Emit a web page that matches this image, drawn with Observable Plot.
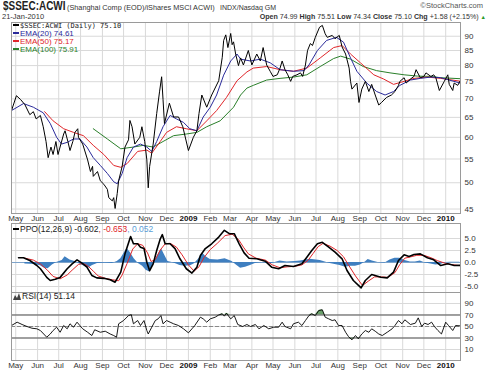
<!DOCTYPE html>
<html><head><meta charset="utf-8">
<script src="https://cdn.jsdelivr.net/npm/d3@7"></script>
<script src="https://cdn.jsdelivr.net/npm/@observablehq/plot@0.6"></script>
<style>
html,body{margin:0;padding:0;background:#fff;}
#root{position:relative;width:489px;height:371px;overflow:hidden;font-family:"Liberation Sans",Arial,sans-serif;color:#222;}
.abs{position:absolute;white-space:nowrap;}
svg{overflow:visible;}
.lg{font-size:8px;line-height:8px;}
.dash{display:inline-block;width:6px;height:2px;vertical-align:middle;margin-right:1px;position:relative;top:-1px;}
</style></head><body>
<div id="root">
  <div class="abs" style="left:3px;top:0px;font-size:12px;line-height:12px;font-weight:bold;transform:scaleX(0.83);transform-origin:0 0;">$SSEC:ACWI</div>
  <div class="abs" style="left:67px;top:4px;font-size:7.3px;line-height:8px;color:#333;">(Shanghai Comp (EOD)/iShares MSCI ACWI)</div>
  <div class="abs" style="left:220px;top:4px;font-size:7px;line-height:8px;color:#333;">INDX/Nasdaq GM</div>
  <div class="abs" style="right:6px;top:2px;font-size:7.5px;line-height:8px;color:#555;">&copy;StockCharts.com</div>
  <div class="abs" style="left:2px;top:12.5px;font-size:7.5px;line-height:8px;color:#333;">21-Jan-2010</div>
  <div class="abs" style="right:3px;top:12.5px;font-size:7.1px;line-height:8px;color:#333;"><b>Open</b> 74.99 <b>High</b> 75.51 <b>Low</b> 74.34 <b>Close</b> 75.10 <b>Chg</b> +1.58 (+2.15%) <span style="color:#2a9a2a;font-size:5.5px">&#9650;</span></div>
  <div id="p1" class="abs" style="left:0;top:21px;"></div>
  <div id="p2" class="abs" style="left:0;top:222px;"></div>
  <div id="p3" class="abs" style="left:0;top:291px;"></div>
  <div class="abs lg" style="left:13px;top:22px;font-family:'DejaVu Sans Mono',monospace;font-size:7px;"><span class="dash" style="background:#000"></span>$SSEC:ACWI (Daily) 75.10</div>
  <div class="abs lg" style="left:13px;top:30px;color:#2a2a9a;"><span class="dash" style="background:#2a2a9a"></span>EMA(20) 74.61</div>
  <div class="abs lg" style="left:13px;top:38px;color:#e0262a;"><span class="dash" style="background:#e0262a"></span>EMA(50) 75.17</div>
  <div class="abs lg" style="left:13px;top:46px;color:#2a7f2a;"><span class="dash" style="background:#2a7f2a"></span>EMA(100) 75.91</div>
  <div class="abs lg" style="left:13px;top:225px;font-size:8.5px;"><span class="dash" style="background:#000"></span>PPO(12,26,9) -0.602<span style="color:#e0262a">, -0.653</span><span style="color:#5aa0d8">, 0.052</span></div>
  <div class="abs lg" style="left:13px;top:292px;font-size:8.5px;"><svg width="8" height="7" style="vertical-align:middle;margin-right:1px"><path d="M0,7 L2,2 L4,5 L6,0 L8,7 Z" fill="#444"/></svg>RSI(14) 51.14</div>
</div>
<script>
// ---------- DATA ----------
const priceTicks = [45, 50, 55, 60, 65, 70, 75, 80, 85, 90];
const ppoTicks = [-5, -2.5, 0, 2.5, 5];
const rsiTicks = [10, 30, 50, 70, 90];

const price = [
["2008-04-25",66.8],["2008-05-02",70.9],["2008-05-08",69.8],["2008-05-14",68.4],["2008-05-21",65.7],
["2008-05-26",66.5],["2008-05-30",64.6],["2008-06-05",65.5],["2008-06-09",62.6],["2008-06-13",59.0],
["2008-06-16",55.3],["2008-06-20",57.7],["2008-06-23",56.0],["2008-06-27",59.0],["2008-06-30",56.0],
["2008-07-08",60.8],["2008-07-10",61.6],["2008-07-14",59.0],["2008-07-17",56.9],["2008-07-21",59.0],
["2008-07-24",61.2],["2008-07-28",62.1],["2008-07-29",60.0],["2008-08-04",58.4],["2008-08-11",54.8],
["2008-08-15",52.3],["2008-08-18",53.4],["2008-08-19",51.3],["2008-08-25",52.3],["2008-08-29",50.4],
["2008-09-03",49.7],["2008-09-08",48.7],["2008-09-10",47.1],["2008-09-15",46.5],["2008-09-17",47.1],
["2008-09-19",45.1],["2008-09-22",47.9],["2008-09-24",50.4],["2008-09-29",53.4],["2008-10-03",57.7],
["2008-10-08",59.4],["2008-10-10",64.2],["2008-10-13",62.6],["2008-10-17",58.4],["2008-10-24",60.0],
["2008-10-27",62.6],["2008-10-31",59.0],["2008-11-03",54.8],["2008-11-05",49.0],["2008-11-07",53.4],
["2008-11-12",58.4],["2008-11-17",66.0],["2008-11-21",72.0],["2008-11-24",76.5],["2008-11-26",69.8],
["2008-11-28",63.4],["2008-12-05",68.8],["2008-12-11",65.1],["2008-12-18",65.1],["2008-12-24",62.6],
["2009-01-01",56.9],["2009-01-08",60.0],["2009-01-13",61.6],["2009-01-16",66.0],["2009-01-20",71.1],
["2009-01-27",67.7],["2009-02-03",71.1],["2009-02-13",75.3],["2009-02-18",82.7],["2009-02-20",88.5],
["2009-02-23",90.5],["2009-02-26",86.0],["2009-03-02",91.0],["2009-03-04",87.0],["2009-03-06",88.0],
["2009-03-09",83.8],["2009-03-13",80.0],["2009-03-16",82.5],["2009-03-20",80.2],["2009-03-27",85.0],
["2009-04-01",80.2],["2009-04-08",83.8],["2009-04-13",81.5],["2009-04-17",86.0],["2009-04-22",80.2],
["2009-04-27",78.2],["2009-05-01",76.6],["2009-05-07",77.1],["2009-05-11",79.2],["2009-05-14",81.5],
["2009-05-18",78.7],["2009-05-22",77.1],["2009-05-26",75.1],["2009-05-29",76.6],["2009-06-04",77.1],
["2009-06-09",77.7],["2009-06-12",76.6],["2009-06-16",80.2],["2009-06-19",85.0],["2009-06-23",87.4],
["2009-06-26",86.7],["2009-06-30",89.6],["2009-07-06",93.3],["2009-07-10",94.0],["2009-07-14",90.9],
["2009-07-17",89.6],["2009-07-24",90.3],["2009-07-28",89.1],["2009-08-03",90.3],["2009-08-07",86.2],
["2009-08-12",83.8],["2009-08-17",79.2],["2009-08-19",75.1],["2009-08-21",72.8],["2009-08-28",74.6],
["2009-08-31",69.0],["2009-09-04",72.8],["2009-09-09",75.1],["2009-09-14",72.1],["2009-09-18",74.2],
["2009-09-23",71.1],["2009-09-28",68.3],["2009-10-02",69.0],["2009-10-09",70.4],["2009-10-16",71.1],
["2009-10-21",72.1],["2009-10-26",73.9],["2009-10-28",75.1],["2009-11-03",76.2],["2009-11-06",74.6],
["2009-11-12",75.8],["2009-11-17",76.6],["2009-11-20",78.7],["2009-11-26",76.2],["2009-12-01",76.6],
["2009-12-04",77.7],["2009-12-11",76.6],["2009-12-15",77.1],["2009-12-18",76.2],["2009-12-23",72.4],
["2009-12-30",75.1],["2010-01-04",77.1],["2010-01-06",74.2],["2010-01-11",72.4],["2010-01-13",74.6],
["2010-01-18",73.9],["2010-01-20",74.6],["2010-01-21",75.1]
];

const ema20 = [
["2008-04-25",66.8],["2008-05-12",68.7],["2008-05-26",67.7],["2008-06-09",66.2],["2008-06-19",63.4],
["2008-06-28",60.0],["2008-07-05",58.4],["2008-07-13",58.8],["2008-07-22",59.6],["2008-07-31",59.6],
["2008-08-10",57.7],["2008-08-19",55.3],["2008-08-29",53.6],["2008-09-08",51.9],["2008-09-17",50.2],
["2008-09-22",49.8],["2008-09-29",51.9],["2008-10-06",55.3],["2008-10-15",57.7],["2008-10-25",58.4],
["2008-11-03",57.7],["2008-11-10",56.7],["2008-11-17",59.0],["2008-11-26",62.6],["2008-12-06",65.5],
["2008-12-15",64.6],["2008-12-25",63.7],["2009-01-03",62.1],["2009-01-13",61.6],["2009-01-22",65.1],
["2009-02-01",67.7],["2009-02-10",71.1],["2009-02-20",77.0],["2009-03-02",81.5],["2009-03-11",83.8],
["2009-03-16",82.1],["2009-03-30",81.5],["2009-04-13",82.1],["2009-04-27",80.9],["2009-05-11",78.7],
["2009-05-30",78.2],["2009-06-14",78.4],["2009-06-21",80.2],["2009-07-03",85.0],["2009-07-16",88.5],
["2009-07-30",89.6],["2009-08-09",87.9],["2009-08-19",82.5],["2009-08-28",78.2],["2009-09-11",74.6],
["2009-09-25",72.1],["2009-10-07",71.1],["2009-10-19",72.1],["2009-10-28",73.9],["2009-11-12",75.5],
["2009-11-26",76.0],["2009-12-11",76.4],["2009-12-25",76.2],["2010-01-21",74.61]
];

const ema50 = [
["2008-06-11",66.5],["2008-06-23",64.1],["2008-07-08",62.1],["2008-07-22",61.2],["2008-08-05",60.4],
["2008-08-19",58.1],["2008-09-03",56.0],["2008-09-17",53.6],["2008-09-27",53.2],["2008-10-06",54.0],
["2008-10-21",56.7],["2008-11-03",57.0],["2008-11-10",56.3],["2008-11-22",59.0],["2008-12-01",61.2],
["2008-12-15",62.6],["2008-12-29",62.1],["2009-01-13",61.6],["2009-01-27",64.1],["2009-02-10",66.8],
["2009-02-24",70.4],["2009-03-11",75.3],["2009-03-25",78.0],["2009-04-03",79.2],["2009-04-22",79.7],
["2009-05-11",78.7],["2009-05-30",78.2],["2009-06-18",79.2],["2009-07-07",82.5],["2009-07-26",86.0],
["2009-08-07",86.7],["2009-08-19",83.8],["2009-09-02",80.9],["2009-09-21",77.1],["2009-10-05",75.8],
["2009-10-19",74.2],["2009-11-03",75.1],["2009-11-17",76.0],["2009-12-06",76.4],["2009-12-25",76.0],
["2010-01-21",75.17]
];

const ema100 = [
["2008-08-19",62.1],["2008-09-08",59.6],["2008-09-27",57.3],["2008-10-15",57.7],["2008-10-29",58.1],
["2008-11-12",57.7],["2008-11-26",59.0],["2008-12-11",60.4],["2008-12-29",60.8],["2009-01-13",61.2],
["2009-01-27",62.6],["2009-02-15",64.1],["2009-03-06",67.7],["2009-03-16",71.1],["2009-03-25",73.1],
["2009-04-03",73.9],["2009-04-22",75.5],["2009-05-11",76.0],["2009-05-30",76.4],["2009-06-18",77.1],
["2009-07-07",79.7],["2009-07-26",82.3],["2009-08-05",83.1],["2009-08-19",82.1],["2009-09-06",79.7],
["2009-09-25",78.4],["2009-10-14",77.7],["2009-11-03",77.1],["2009-11-22",76.7],["2009-12-11",76.6],
["2009-12-25",76.2],["2010-01-21",75.91]
];

const ppo = [
["2008-05-05",0.98],["2008-05-12",1.0],["2008-05-21",0.42],["2008-05-31",-0.63],["2008-06-05",-1.3],
["2008-06-14",-3.1],["2008-06-19",-3.75],["2008-06-26",-3.5],["2008-07-03",-3.1],["2008-07-13",-1.3],
["2008-07-20",-0.28],["2008-07-27",0.56],["2008-08-03",-0.14],["2008-08-10",-0.97],["2008-08-17",-2.7],
["2008-08-24",-3.2],["2008-09-03",-3.3],["2008-09-12",-3.6],["2008-09-19",-4.1],["2008-09-27",-2.0],
["2008-10-03",1.8],["2008-10-11",5.4],["2008-10-15",3.9],["2008-10-21",3.9],["2008-10-25",3.2],
["2008-10-30",2.9],["2008-11-03",0.06],["2008-11-07",-1.7],["2008-11-12",-0.28],["2008-11-17",2.5],
["2008-11-22",4.9],["2008-11-25",5.8],["2008-11-29",3.9],["2008-12-06",3.9],["2008-12-13",2.9],
["2008-12-20",0.77],["2008-12-29",-1.3],["2009-01-06",-2.2],["2009-01-13",-0.97],["2009-01-18",1.46],
["2009-01-25",2.9],["2009-02-03",3.9],["2009-02-13",5.3],["2009-02-21",6.7],["2009-02-28",6.0],
["2009-03-07",6.0],["2009-03-14",3.9],["2009-03-21",2.0],["2009-03-28",0.9],["2009-04-08",0.77],
["2009-04-20",0.28],["2009-04-29",-0.97],["2009-05-09",-1.3],["2009-05-18",-0.63],["2009-05-30",-0.83],
["2009-06-11",-0.28],["2009-06-18",1.1],["2009-06-25",2.5],["2009-07-03",3.9],["2009-07-10",4.2],
["2009-07-19",3.2],["2009-07-28",2.15],["2009-08-07",0.77],["2009-08-14",-1.67],["2009-08-23",-3.75],
["2009-09-03",-5.3],["2009-09-09",-3.75],["2009-09-18",-2.5],["2009-10-01",-3.06],["2009-10-10",-3.2],
["2009-10-19",-2.0],["2009-10-26",0.42],["2009-11-03",1.6],["2009-11-10",1.25],["2009-11-17",1.67],
["2009-11-26",1.8],["2009-12-06",0.98],["2009-12-15",0.56],["2009-12-25",-0.63],["2010-01-04",-0.28],
["2010-01-13",-0.63],["2010-01-21",-0.602]
];

const signal = [
["2008-05-14",0.9],["2008-05-26",0.5],["2008-06-05",-0.3],["2008-06-15",-1.6],["2008-06-23",-2.9],
["2008-07-03",-3.4],["2008-07-13",-2.6],["2008-07-20",-1.6],["2008-07-29",-0.4],["2008-08-05",-0.2],
["2008-08-12",-0.8],["2008-08-19",-1.8],["2008-08-26",-2.8],["2008-09-05",-3.3],["2008-09-15",-3.6],
["2008-09-24",-3.8],["2008-09-29",-2.6],["2008-10-06",-0.2],["2008-10-14",2.8],["2008-10-21",3.9],
["2008-10-28",3.6],["2008-11-04",2.0],["2008-11-09",0.2],["2008-11-15",0.6],["2008-11-22",2.6],
["2008-11-29",3.9],["2008-12-06",4.0],["2008-12-15",3.2],["2008-12-23",1.6],["2009-01-01",-0.5],
["2009-01-09",-1.8],["2009-01-16",-0.9],["2009-01-23",1.0],["2009-02-01",2.7],["2009-02-11",4.0],
["2009-02-22",5.6],["2009-03-04",5.9],["2009-03-13",4.8],["2009-03-20",3.2],["2009-03-27",1.8],
["2009-04-07",0.9],["2009-04-20",0.5],["2009-04-30",-0.5],["2009-05-11",-1.1],["2009-05-21",-0.9],
["2009-06-01",-0.8],["2009-06-11",-0.5],["2009-06-20",0.5],["2009-06-27",1.9],["2009-07-04",3.3],
["2009-07-11",4.0],["2009-07-21",3.4],["2009-07-31",2.5],["2009-08-09",1.2],["2009-08-16",-0.5],
["2009-08-26",-2.8],["2009-09-05",-4.8],["2009-09-13",-3.9],["2009-09-22",-3.0],["2009-10-02",-3.0],
["2009-10-11",-3.1],["2009-10-21",-2.1],["2009-10-28",-0.4],["2009-11-04",0.9],["2009-11-13",1.2],
["2009-11-21",1.5],["2009-12-01",1.5],["2009-12-11",1.0],["2009-12-20",0.4],["2009-12-30",-0.1],
["2010-01-08",-0.4],["2010-01-21",-0.653]
];

const hist = [
["2008-05-14",-0.3],["2008-05-29",-0.4],["2008-06-05",-0.7],["2008-06-11",-1.2],["2008-06-16",-1.3],
["2008-06-22",-0.5],["2008-06-28",0],["2008-07-06",0.4],["2008-07-10",1.2],["2008-07-17",0.5],
["2008-07-24",0.2],["2008-07-31",-0.3],["2008-08-08",-0.9],["2008-08-12",-1.2],["2008-08-18",-0.6],
["2008-08-25",-0.2],["2008-09-05",-0.1],["2008-09-15",-0.2],["2008-09-22",0.2],["2008-09-27",0.8],
["2008-10-02",2.0],["2008-10-06",2.9],["2008-10-11",2.0],["2008-10-16",0.8],["2008-10-22",-0.2],
["2008-10-28",-0.8],["2008-11-02",-1.6],["2008-11-07",-2.0],["2008-11-11",-0.8],["2008-11-15",0.3],
["2008-11-19",1.6],["2008-11-24",2.8],["2008-11-28",1.6],["2008-12-03",0.2],["2008-12-09",0],
["2008-12-15",-0.3],["2008-12-20",-0.6],["2008-12-27",-0.8],["2009-01-04",-0.7],["2009-01-09",-0.3],
["2009-01-15",0.6],["2009-01-21",2.0],["2009-01-26",1.2],["2009-02-01",0.6],["2009-02-12",0.5],
["2009-02-22",0.8],["2009-03-04",0.2],["2009-03-09",-0.4],["2009-03-16",-1.2],["2009-03-23",-1.0],
["2009-03-30",-0.6],["2009-04-06",-0.2],["2009-04-16",0],["2009-04-27",-0.3],["2009-05-11",0.3],
["2009-05-21",0.1],["2009-06-01",0.2],["2009-06-09",0.3],["2009-06-16",0.5],["2009-06-23",0.7],
["2009-07-07",0.4],["2009-07-14",0.1],["2009-07-21",-0.2],["2009-07-28",-0.4],["2009-08-04",-0.6],
["2009-08-12",-1.0],["2009-08-19",-0.8],["2009-08-26",-0.8],["2009-09-02",-0.5],["2009-09-09",0.1],
["2009-09-13",0.6],["2009-09-19",0.3],["2009-09-27",0],["2009-10-07",-0.1],["2009-10-14",0.5],
["2009-10-21",0.9],["2009-10-28",0.9],["2009-11-04",0.4],["2009-11-12",0.1],["2009-11-19",0.1],
["2009-11-26",0.3],["2009-12-03",-0.1],["2009-12-11",-0.3],["2009-12-18",-0.5],["2009-12-25",-0.4],
["2010-01-01",0.0],["2010-01-08",0.05],["2010-01-21",0.052]
];

const rsi = [
["2008-04-25",51.7],["2008-05-03",57.5],["2008-05-10",53.5],["2008-05-17",50],["2008-05-24",47],
["2008-05-31",46],["2008-06-05",43],["2008-06-14",31.4],["2008-06-19",37],["2008-06-23",43],
["2008-06-28",48.8],["2008-07-03",40],["2008-07-08",51.7],["2008-07-13",46],["2008-07-17",54.7],
["2008-07-22",48.8],["2008-07-27",57.5],["2008-07-31",51.7],["2008-08-04",46],["2008-08-11",40],
["2008-08-17",34.3],["2008-08-21",44.3],["2008-08-29",40],["2008-09-05",41.8],["2008-09-12",37],
["2008-09-17",34.3],["2008-09-21",31.4],["2008-09-24",54.7],["2008-10-01",60.4],["2008-10-08",69],
["2008-10-12",70.5],["2008-10-15",54.7],["2008-10-21",60.4],["2008-10-25",51.7],["2008-10-30",60.4],
["2008-11-03",43],["2008-11-05",37],["2008-11-10",48.8],["2008-11-15",60.4],["2008-11-19",63.3],
["2008-11-23",69],["2008-11-26",54.7],["2008-12-01",60.4],["2008-12-06",57.5],["2008-12-11",54.7],
["2008-12-18",51.7],["2008-12-25",46],["2009-01-01",39],["2009-01-06",46],["2009-01-10",51.7],
["2009-01-18",66.2],["2009-01-22",63.3],["2009-01-27",57.5],["2009-02-01",63.3],["2009-02-08",66.2],
["2009-02-13",70],["2009-02-18",72],["2009-02-21",68],["2009-02-24",73],["2009-03-02",63.3],
["2009-03-07",69],["2009-03-12",53.5],["2009-03-19",50],["2009-03-25",53.5],["2009-03-30",50],
["2009-04-06",53.5],["2009-04-11",46],["2009-04-18",51.7],["2009-04-25",46],["2009-05-02",48.8],
["2009-05-09",48.8],["2009-05-14",57.5],["2009-05-18",50],["2009-05-26",46],["2009-05-30",54.7],
["2009-06-06",57.5],["2009-06-11",51.7],["2009-06-16",60.4],["2009-06-21",69],["2009-06-25",72],
["2009-06-30",69],["2009-07-05",77.8],["2009-07-10",79],["2009-07-14",66.2],["2009-07-19",63.3],
["2009-07-24",60.4],["2009-07-28",61.6],["2009-08-02",51.7],["2009-08-07",51.7],["2009-08-12",40],
["2009-08-16",32.6],["2009-08-21",26.8],["2009-08-26",34.3],["2009-08-30",28.6],["2009-09-04",37],
["2009-09-09",43],["2009-09-14",40],["2009-09-18",46],["2009-09-23",41.8],["2009-09-28",37],
["2009-10-03",34.3],["2009-10-10",40],["2009-10-17",46],["2009-10-21",51.7],["2009-10-26",60.4],
["2009-10-31",54.7],["2009-11-04",61.6],["2009-11-12",53.5],["2009-11-19",55.8],["2009-11-23",65],
["2009-11-28",50],["2009-12-02",55.8],["2009-12-07",53.5],["2009-12-12",57.5],["2009-12-16",50],
["2009-12-21",43],["2009-12-26",37],["2010-01-01",57.5],["2010-01-05",51.7],["2010-01-11",43],
["2010-01-15",51.7],["2010-01-21",51.14]
];

// ---------- BUILD ----------
const P = a => a.map(([d, v]) => ({date: new Date(d + "T00:00:00Z"), v}));
const dPrice = P(price), dE20 = P(ema20), dE50 = P(ema50), dE100 = P(ema100);
const dPpo = P(ppo), dSig = P(signal), dHist = P(hist), dRsi = P(rsi);

const xDomain = [new Date("2008-04-25T00:00:00Z"), new Date("2010-01-22T00:00:00Z")];
const months = d3.utcMonths(new Date("2008-05-01T00:00:00Z"), new Date("2010-01-02T00:00:00Z"));
const mFmt = d => d.getUTCMonth() === 0 ? String(d.getUTCFullYear()) : d3.utcFormat("%b")(d);
const gridC = "#d9d9d9", frameC = "#9a9a9a";
const style = {fontSize: "8px", fontFamily: "Liberation Sans, Arial, sans-serif", color: "#333", background: "transparent", overflow: "visible"};
const W = 489, ML = 11, MR = 29;

function boldYears(svg) {
  d3.select(svg).selectAll("text").filter(function(){ return /^20\d\d$/.test(this.textContent); })
    .attr("font-weight", "bold").attr("fill", "#111");
  return svg;
}

const p1 = Plot.plot({
  width: W, height: 203, marginLeft: ML, marginRight: MR, marginTop: 1, marginBottom: 11, style,
  x: {type: "utc", domain: xDomain, ticks: months, tickFormat: mFmt, tickSize: 0, tickPadding: 2, label: null},
  y: {type: "log", domain: [44.2, 95.1], axis: "right", ticks: priceTicks, tickFormat: d => String(d), tickSize: 0, tickPadding: 4, label: null},
  marks: [
    Plot.ruleX(months, {stroke: gridC}),
    Plot.ruleY(priceTicks, {stroke: gridC}),
    Plot.line(dE100, {x: "date", y: "v", stroke: "#2a7f2a", strokeWidth: 1}),
    Plot.line(dE50, {x: "date", y: "v", stroke: "#e0262a", strokeWidth: 1}),
    Plot.line(dE20, {x: "date", y: "v", stroke: "#2a2a9a", strokeWidth: 1}),
    Plot.line(dPrice, {x: "date", y: "v", stroke: "#000", strokeWidth: 1}),
    Plot.frame({stroke: frameC})
  ]
});
document.getElementById("p1").appendChild(boldYears(p1));

const p2 = Plot.plot({
  width: W, height: 71, marginLeft: ML, marginRight: MR, marginTop: 1, marginBottom: 1, style,
  x: {type: "utc", domain: xDomain, axis: null},
  y: {domain: [-6.25, 8.125], axis: "right", ticks: ppoTicks, tickFormat: d => d.toFixed(1), tickSize: 0, tickPadding: 4, label: null},
  marks: [
    Plot.ruleX(months, {stroke: gridC}),
    Plot.ruleY(ppoTicks, {stroke: gridC}),
    Plot.areaY(dHist, {x: "date", y: "v", fill: "#3f7fc0"}),
    Plot.ruleY([0], {stroke: "#3f7fc0", strokeOpacity: 0.6}),
    Plot.line(dSig, {x: "date", y: "v", stroke: "#e0262a", strokeWidth: 1}),
    Plot.line(dPpo, {x: "date", y: "v", stroke: "#000", strokeWidth: 1.6}),
    Plot.frame({stroke: frameC})
  ]
});
document.getElementById("p2").appendChild(p2);

const p3 = Plot.plot({
  width: W, height: 80, marginLeft: ML, marginRight: MR, marginTop: 1, marginBottom: 11, style,
  x: {type: "utc", domain: xDomain, ticks: months, tickFormat: mFmt, tickSize: 0, tickPadding: 2, label: null},
  y: {domain: [-9.1, 109.1], axis: "right", ticks: rsiTicks, tickFormat: d => String(d), tickSize: 0, tickPadding: 4, label: null},
  marks: [
    Plot.ruleX(months, {stroke: gridC}),
    Plot.ruleY(rsiTicks, {stroke: gridC}),
    Plot.areaY(dRsi, {x: "date", y1: 70, y2: d => Math.max(d.v, 70), fill: "#4f8f4f", fillOpacity: 0.85}),
    Plot.areaY(dRsi, {x: "date", y1: 30, y2: d => Math.min(d.v, 30), fill: "#4f8f4f", fillOpacity: 0.85}),
    Plot.ruleY([30, 70], {stroke: "#555"}),
    Plot.ruleY([50], {stroke: "#888", strokeDasharray: "4,2"}),
    Plot.line(dRsi, {x: "date", y: "v", stroke: "#000", strokeWidth: 0.9}),
    Plot.frame({stroke: frameC})
  ]
});
document.getElementById("p3").appendChild(boldYears(p3));
</script>
</body></html>
